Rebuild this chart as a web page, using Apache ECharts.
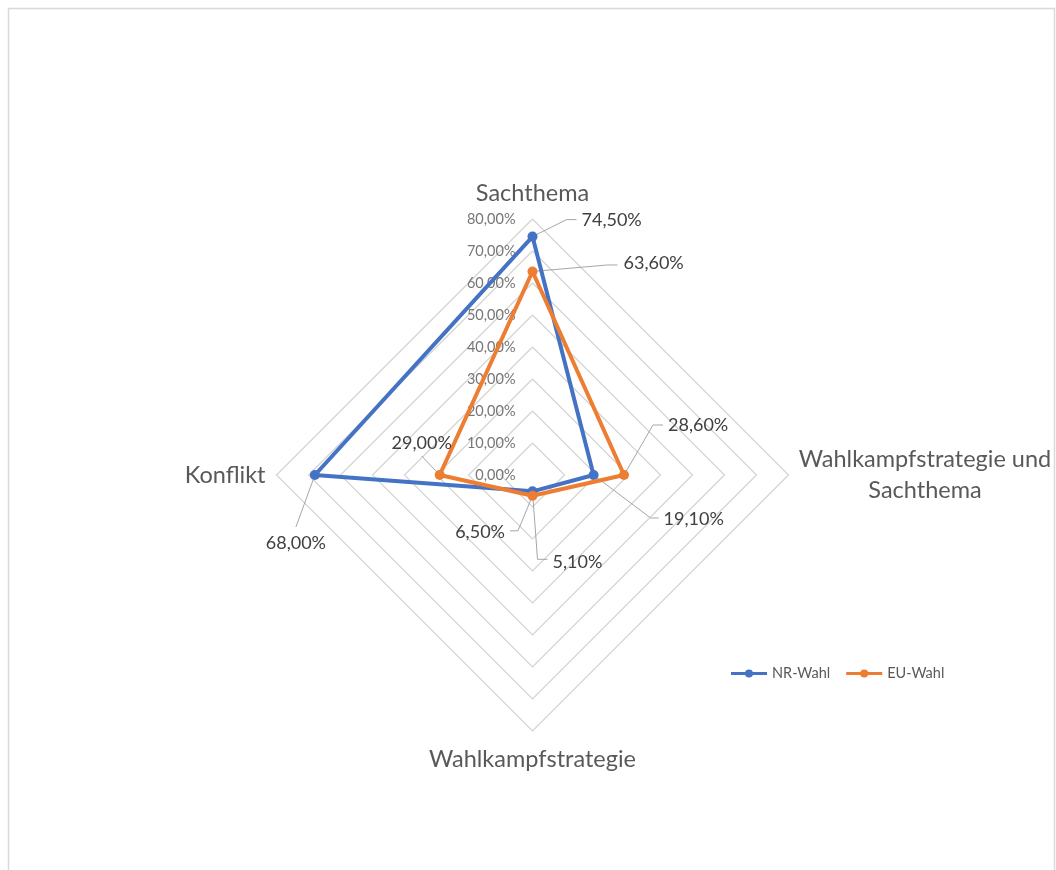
<!DOCTYPE html>
<html>
<head>
<meta charset="utf-8">
<script src="https://cdn.jsdelivr.net/npm/echarts@6/dist/echarts.min.js"></script>
<style>
  html, body { margin: 0; padding: 0; background: #ffffff; }
  #chart { width: 1056px; height: 870px; }
</style>
</head>
<body>
<div id="chart"></div>
<script>
// Radar axes, listed counter-clockwise from the top (ECharts' radar order)
const categories = ['Sachthema', 'Konflikt', 'Wahlkampfstrategie', 'Wahlkampfstrategie und Sachthema'];
const seriesNames = ['NR-Wahl', 'EU-Wahl'];
const nrWahl = [74.5, 68.0, 5.1, 19.1];
const euWahl = [63.6, 29.0, 6.5, 28.6];
const axisMax = 80;
const axisSplits = 8;

const seriesValues = [nrWahl, euWahl];
const seriesColors = ['#4472C4', '#ED7D31'];
const FONT = 'Lato, "Open Sans", sans-serif';

// Placement of the value labels and their leader lines, relative to each point
// (elbow / end of the leader line, text anchor, text alignment)
const labelLayout = [
  [ // NR-Wahl
    { elbow: [34, -17], end: [44, -17], text: [49, -16], align: 'left' },
    { elbow: null, end: [-19, 52], text: [-19, 68], align: 'center' },
    { elbow: [5, 68], end: [15, 68], text: [20, 71], align: 'left' },
    { elbow: [57, 43], end: [65, 43], text: [70, 44], align: 'left' }
  ],
  [ // EU-Wahl
    { elbow: [75, -6.5], end: [85, -6.5], text: [91, -8.5], align: 'left' },
    { elbow: null, end: [-18, -19], text: [-18, -32], align: 'center' },
    { elbow: [-14.5, 35], end: [-22.5, 35], text: [-27.5, 36], align: 'right' },
    { elbow: [29, -50], end: [39, -50], text: [44, -50], align: 'left' }
  ]
];
const nameGaps = [12, 11, 15, 11];

function pct(v) {
  return v.toFixed(2).replace('.', ',') + '%';
}

const chart = echarts.init(document.getElementById('chart'), null, { renderer: 'canvas' });

const indicators = categories.map(function (name, i) {
  const ind = { name: name, max: axisMax, min: 0, nameGap: nameGaps[i] };
  if (i === 0) {
    ind.axisLabel = {
      show: true,
      showMinLabel: true,
      showMaxLabel: true,
      margin: 17,
      color: '#767676',
      fontSize: 14.5,
      fontFamily: FONT,
      formatter: function (v) { return pct(v); }
    };
  }
  return ind;
});

chart.setOption({
  animation: false,
  backgroundColor: '#ffffff',
  legend: {
    data: seriesNames.map(function (n) { return { name: n }; }),
    left: 726,
    top: 661,
    itemWidth: 36,
    itemHeight: 8,
    itemGap: 16,
    icon: 'path://M0,2.5L36,2.5L36,5.5L0,5.5Z M22,4A4,4,0,1,1,14,4A4,4,0,1,1,22,4Z',
    textStyle: { color: '#595959', fontSize: 14.5, fontFamily: FONT }
  },
  radar: {
    center: [532.5, 475],
    radius: 256,
    startAngle: 90,
    shape: 'polygon',
    splitNumber: axisSplits,
    indicator: indicators,
    axisName: {
      color: '#595959',
      fontSize: 23.5,
      fontFamily: FONT,
      lineHeight: 27,
      formatter: function (name) {
        if (name.indexOf(' und ') > 0) {
          const parts = name.split(' und ');
          return '{c|' + parts[0] + ' und}\n{c|' + parts[1] + '}';
        }
        return name;
      },
      rich: {
        c: { width: 251, align: 'center', fontSize: 23.5, lineHeight: 31, color: '#595959', fontFamily: FONT }
      }
    },
    axisLine: { show: false },
    axisTick: { show: false },
    axisLabel: { show: false },
    splitLine: { lineStyle: { color: '#d4d4d4', width: 1.2 } },
    splitArea: { show: false }
  },
  series: seriesNames.map(function (n, s) {
    return {
      type: 'radar',
      name: n,
      symbol: 'circle',
      symbolSize: 10,
      z: 2 + s,
      itemStyle: { color: seriesColors[s] },
      lineStyle: { color: seriesColors[s], width: 4 },
      label: { show: false },
      data: [{ name: n, value: seriesValues[s] }]
    };
  })
});

// Value labels with leader lines, positioned from the radar's own coordinate system
const radarCS = chart.getModel().getComponent('radar', 0).coordinateSystem;
const graphics = [{
  type: 'rect',
  silent: true,
  shape: { x: 8.5, y: 8.5, width: 1046, height: 900 },
  style: { fill: 'none', stroke: '#d9d9d9', lineWidth: 1.5 },
  z: 0
}];
seriesValues.forEach(function (vals, s) {
  vals.forEach(function (v, i) {
    const p = radarCS.dataToPoint(v, i);
    const L = labelLayout[s][i];
    const pts = [[p[0], p[1]]];
    if (L.elbow) pts.push([p[0] + L.elbow[0], p[1] + L.elbow[1]]);
    pts.push([p[0] + L.end[0], p[1] + L.end[1]]);
    graphics.push({
      type: 'polyline',
      silent: true,
      shape: { points: pts },
      style: { stroke: '#a6a6a6', lineWidth: 1, fill: null },
      z: 1
    });
    graphics.push({
      type: 'text',
      silent: true,
      x: p[0] + L.text[0],
      y: p[1] + L.text[1],
      style: {
        text: pct(v),
        fill: '#404040',
        font: '18px ' + FONT,
        align: L.align,
        verticalAlign: 'middle'
      },
      z: 10
    });
  });
});
chart.setOption({ graphic: graphics });
</script>
</body>
</html>
